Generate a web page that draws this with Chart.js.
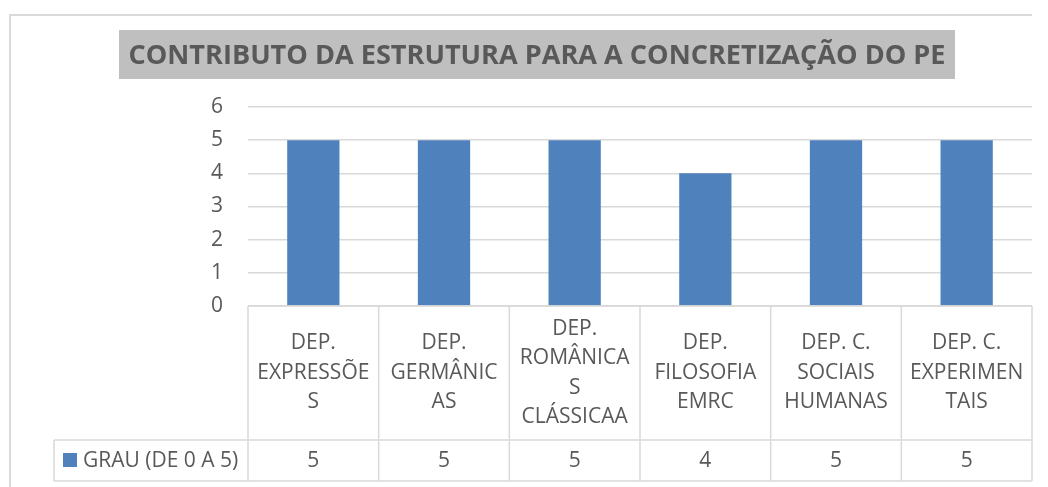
<!DOCTYPE html>
<html>
<head>
<meta charset="utf-8">
<script src="https://cdn.jsdelivr.net/npm/chart.js@4"></script>
<style>
	html, body { margin: 0; padding: 0; background: #fff; }
	#wrap { width: 1048px; height: 487px; }
</style>
</head>
<body>
<div id="wrap"><canvas id="grauChart" width="1048" height="487"></canvas></div>
<script>
// chart data
const chartTitle = "CONTRIBUTO DA ESTRUTURA PARA A CONCRETIZAÇÃO DO PE";
const seriesName = "GRAU (DE 0 A 5)";
const categories = [
	["DEP.", "EXPRESSÕE", "S"],
	["DEP.", "GERMÂNIC", "AS"],
	["DEP.", "ROMÂNICA", "S", "CLÁSSICAA"],
	["DEP.", "FILOSOFIA", "EMRC"],
	["DEP. C.", "SOCIAIS", "HUMANAS"],
	["DEP. C.", "EXPERIMEN", "TAIS"],
];
const grauValues = [5, 5, 5, 4, 5, 5];
const yTicks = [0, 1, 2, 3, 4, 5, 6];

const textColor = "#595959";
const lineColor = "#d9d9d9";
const barColor = "#4f81bd";
const fontFamily = "'Open Sans', sans-serif";

// draws the title box, outer frame and the data table under the axis
const tablePlugin = {
	id: "dataTable",
	afterDraw(chart) {
		const ctx = chart.ctx;
		const x = chart.scales.x;
		const area = chart.chartArea;
		const step = x.getPixelForValue(1) - x.getPixelForValue(0);
		const labelBottom = 440;
		const valueBottom = 481;
		const legendLeft = 54;

		ctx.save();

		// outer frame (top and left sides)
		ctx.strokeStyle = lineColor;
		ctx.lineWidth = 2;
		ctx.beginPath();
		ctx.moveTo(10, 487);
		ctx.lineTo(10, 15);
		ctx.lineTo(area.right, 15);
		ctx.stroke();

		// title with grey box; the text is squeezed a little to get the
		// tall, narrow look of the original font
		ctx.fillStyle = "#bfbfbf";
		ctx.fillRect(119, 30, 836, 49);
		ctx.font = `bold 27px ${fontFamily}`;
		const squeeze = 817 / ctx.measureText(chartTitle).width;
		ctx.fillStyle = textColor;
		ctx.textAlign = "center";
		ctx.textBaseline = "middle";
		ctx.save();
		ctx.translate(537, 56);
		ctx.scale(squeeze, 1);
		ctx.fillText(chartTitle, 0, 0);
		ctx.restore();

		// table grid
		ctx.strokeStyle = lineColor;
		ctx.lineWidth = 1.5;
		ctx.beginPath();
		ctx.moveTo(area.left, area.bottom);
		ctx.lineTo(area.right, area.bottom);
		ctx.moveTo(legendLeft, labelBottom);
		ctx.lineTo(area.right, labelBottom);
		ctx.moveTo(legendLeft, valueBottom);
		ctx.lineTo(area.right, valueBottom);
		ctx.moveTo(legendLeft, labelBottom);
		ctx.lineTo(legendLeft, valueBottom);
		for (let i = 0; i <= categories.length; i++) {
			const cx = x.getPixelForValue(i) - step / 2;
			ctx.moveTo(cx, area.bottom);
			ctx.lineTo(cx, valueBottom);
		}
		ctx.stroke();

		// category labels and values
		ctx.font = `21px ${fontFamily}`;
		ctx.fillStyle = textColor;
		ctx.textAlign = "center";
		ctx.textBaseline = "middle";
		const lineH = 29.5;
		const labelMid = (area.bottom + labelBottom) / 2;
		categories.forEach((lines, i) => {
			const cx = x.getPixelForValue(i);
			const y0 = labelMid - ((lines.length - 1) * lineH) / 2;
			lines.forEach((t, j) => ctx.fillText(t, cx, y0 + j * lineH));
			ctx.fillText(String(grauValues[i]), cx, (labelBottom + valueBottom) / 2 + 1);
		});

		// legend key in the table
		ctx.fillStyle = barColor;
		ctx.fillRect(63, 453, 14, 14);
		ctx.fillStyle = textColor;
		ctx.textAlign = "left";
		ctx.fillText(seriesName, 83, (labelBottom + valueBottom) / 2 + 1);

		ctx.restore();
	},
};

new Chart(document.getElementById("grauChart"), {
	type: "bar",
	data: {
		labels: categories,
		datasets: [
			{
				label: seriesName,
				data: grauValues,
				backgroundColor: barColor,
				barPercentage: 0.4,
				categoryPercentage: 1,
			},
		],
	},
	options: {
		responsive: false,
		animation: false,
		layout: { padding: { left: 0, right: 16, top: 107, bottom: 181 } },
		scales: {
			x: { display: false },
			y: {
				min: yTicks[0],
				max: yTicks[yTicks.length - 1],
				afterFit: (s) => { s.width = 248; },
				afterBuildTicks: (s) => { s.ticks = yTicks.map((v) => ({ value: v })); },
				ticks: {
					color: textColor,
					font: { family: fontFamily, size: 21 },
					padding: 25,
				},
				grid: { color: lineColor, lineWidth: 1.5, drawTicks: false },
				border: { display: false },
			},
		},
		plugins: {
			legend: { display: false },
			tooltip: { enabled: false },
		},
	},
	plugins: [tablePlugin],
});
</script>
</body>
</html>
